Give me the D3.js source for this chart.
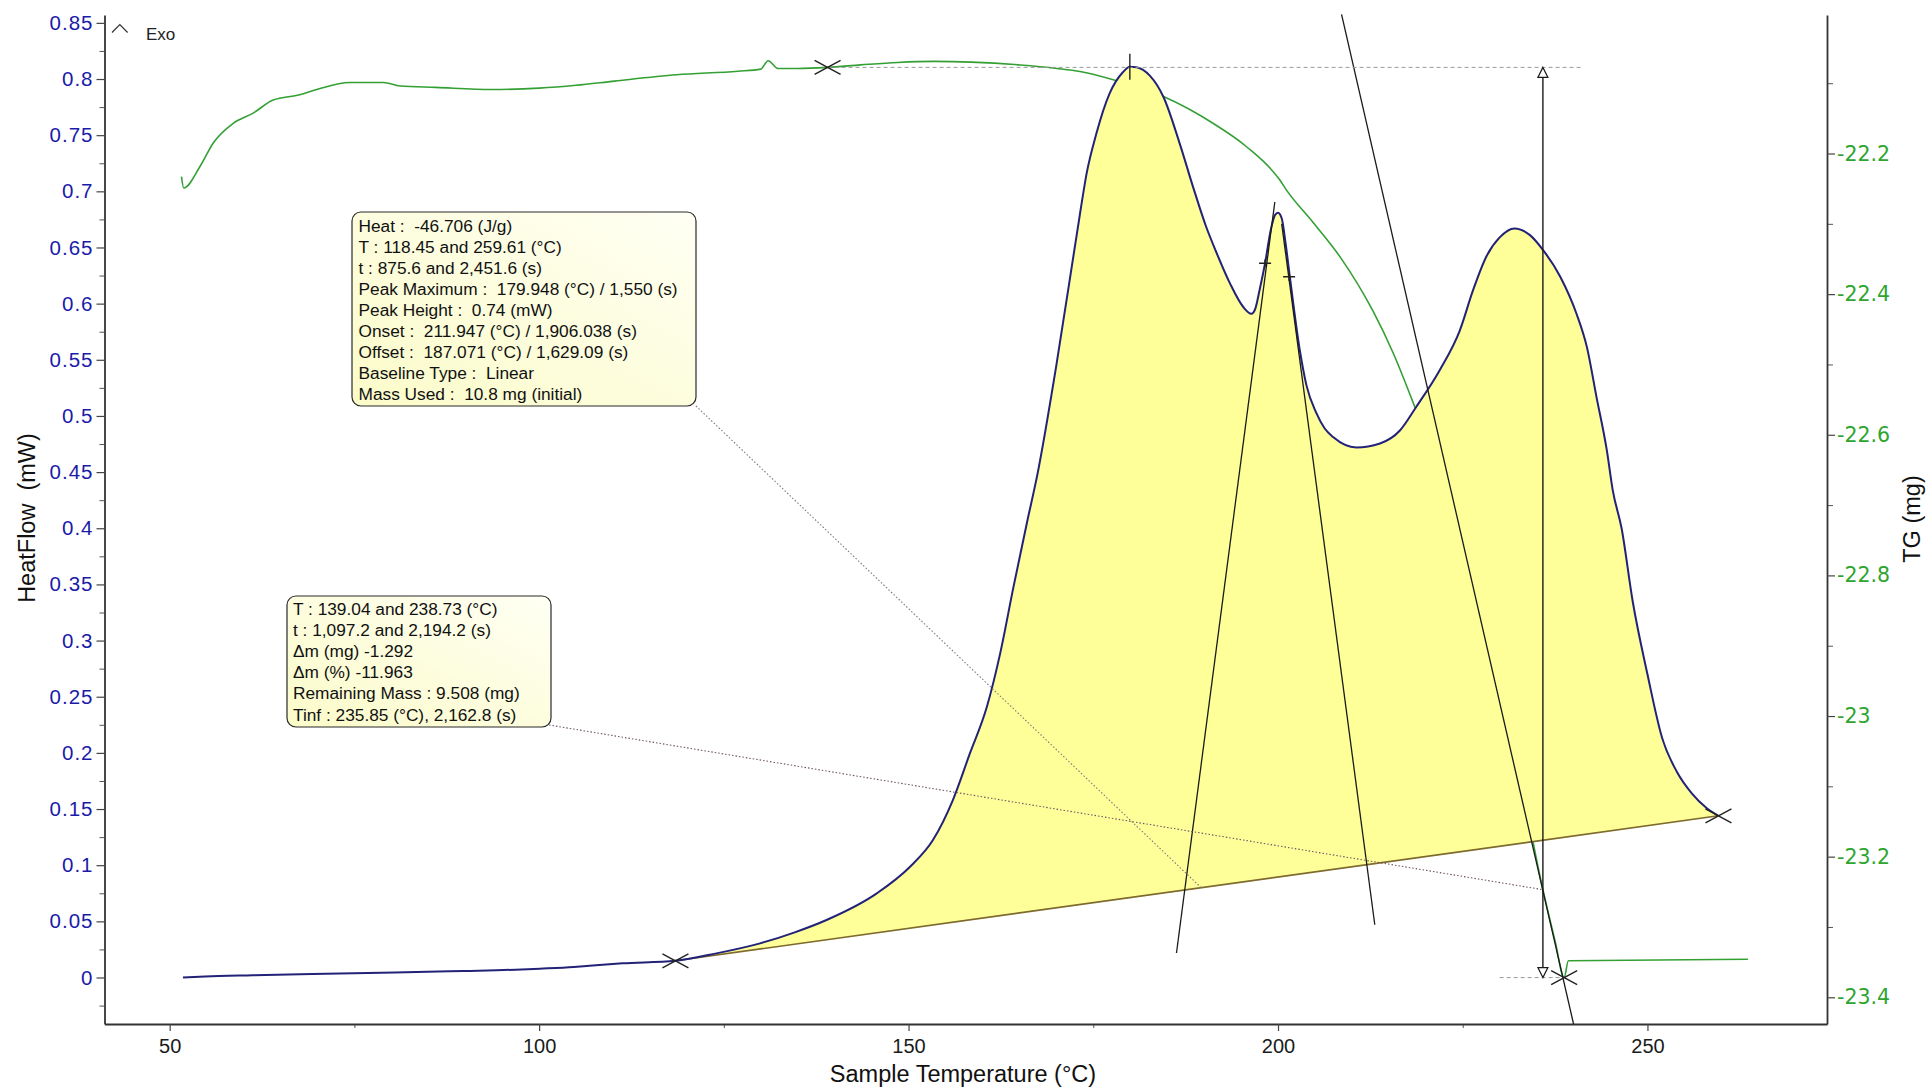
<!DOCTYPE html>
<html>
<head>
<meta charset="utf-8">
<script src="https://cdn.jsdelivr.net/npm/d3@7"></script>
<style>
  html, body { margin: 0; padding: 0; background: #ffffff; }
  svg { display: block; }
  text { white-space: pre; }
</style>
</head>
<body>
<svg id="chart" width="1928" height="1090"></svg>
<script>
// ---------------- data ----------------
// DSC heat flow trace: sample temperature (°C) and heat flow (mW)
const hfTemp = [51.8, 54.8, 61.2, 69.3, 80.5, 89.8, 96.8, 100.1, 104.7, 106.8, 111.3, 118.45,
  124.0, 129.9, 134.5, 138.9, 145.7, 150.2, 153.3, 156.0, 158.3, 160.6, 162.4, 164.2, 166.0,
  167.5, 170.0, 173.2, 174.1, 175.4, 177.2, 179.0, 179.948, 180.85, 182.65, 184.5, 186.7, 188.5,
  190.3, 191.7, 193.5, 195.3, 196.4, 196.9, 197.5, 198.25, 199.0, 199.6, 200.0, 200.5, 201.0,
  201.6, 202.95, 203.86, 205.2, 206.3, 207.5, 210.6, 213.8, 216.5, 218.7, 221.9, 224.6, 226.4, 228.2,
  230.0, 232.0, 234.1, 235.9, 238.2, 240.4, 241.8, 243.1, 244.5, 245.3, 246.5, 248.0, 250.0,
  252.0, 254.0, 256.0, 258.0, 259.61];
const hfValue = [0, 0.0009, 0.002, 0.0032, 0.0044, 0.0058, 0.007, 0.0079, 0.0094, 0.0105, 0.0126, 0.0149,
  0.0215, 0.0304, 0.040, 0.0512, 0.0749, 0.0986, 0.1224, 0.158, 0.1995, 0.241, 0.2886, 0.3478, 0.4043,
  0.450, 0.545, 0.680, 0.716, 0.751, 0.787, 0.806, 0.811, 0.8105, 0.803, 0.784, 0.7425, 0.704,
  0.668, 0.645, 0.618, 0.597, 0.591, 0.595, 0.612, 0.636, 0.665, 0.679, 0.681, 0.676, 0.655,
  0.624, 0.5585, 0.527, 0.5025, 0.489, 0.481, 0.472, 0.4755, 0.487, 0.508, 0.541, 0.576, 0.612, 0.642,
  0.659, 0.667, 0.661, 0.6475, 0.624, 0.591, 0.5615, 0.517, 0.4695, 0.434, 0.40, 0.335, 0.27,
  0.213, 0.183, 0.164, 0.151, 0.144];

// TG trace: sample temperature (°C) and mass signal (mg)
const tgTemp = [51.6, 51.9, 54.1, 55.9, 58.6, 61.3, 64.0, 67.6, 69.9, 74.4, 78.9, 81.2, 86.0, 93.6,
  100.0, 105.0, 110.2, 118.6, 126.9, 130.0, 131.0, 132.3, 135.0, 139.04, 143.5, 148.5, 153.5, 158.5,
  165.1, 170.1, 173.2, 177.7, 184.5, 191.2, 195.7, 200.2, 201.15, 204.75, 208.4, 212.9, 215.6, 218.5,
  221.0, 224.0, 227.0, 230.0, 233.0, 235.85, 237.5, 238.73, 239.3, 263.6];
const tgValue = [-22.233, -22.249, -22.2185, -22.185, -22.157, -22.1425, -22.124, -22.1165, -22.109,
  -22.099, -22.099, -22.104, -22.106, -22.109, -22.107, -22.103, -22.097, -22.088, -22.083, -22.080,
  -22.068, -22.079, -22.079, -22.0775, -22.074, -22.0705, -22.069, -22.070, -22.074, -22.079, -22.0833,
  -22.095, -22.119, -22.157, -22.19, -22.237, -22.252, -22.298, -22.347, -22.425, -22.484, -22.56,
  -22.63, -22.73, -22.84, -22.96, -23.10, -23.247, -23.32, -23.372, -23.348, -23.346];

// Peak integration: limits and linear baseline values at those limits
const peakLimitT = [118.45, 259.61];
const baselineV = [0.0149, 0.144];
const peakMaxT = 179.948;
const peakMaxV = 0.811;
// tangent points on the flanks of the middle peak
const flankT = [198.25, 201.5];
const flankV = [0.636, 0.624];
// onset / offset construction lines (heat flow units)
const tangentLeftT = [186.26, 199.57];
const tangentLeftV = [0.0218, 0.6905];
const tangentRightT = [200.5, 213.1];
const tangentRightV = [0.671, 0.047];

// Mass step: limits, levels, inflection and its tangent (TG units)
const stepT = [139.04, 238.73];
const stepV = [-22.0775, -23.372];
const tinfT = 235.85;
const tinfV = -23.247;
const stepTangentT = [208.6, 240.0];
const stepTangentV = [-22.002, -23.438];
const stepGuideTopT = [139.04, 241.3];
const stepGuideBottomT = [230.0, 238.73];
const heatLeaderT = 189.6;

// Axis ticks
const tempTicks = [50, 100, 150, 200, 250];
const tempMinor = [75, 125, 175, 225];
const hfTicks = [0, 0.05, 0.1, 0.15, 0.2, 0.25, 0.3, 0.35, 0.4, 0.45, 0.5, 0.55, 0.6, 0.65, 0.7, 0.75, 0.8, 0.85];
const hfMinor = [-0.025, 0.025, 0.075, 0.125, 0.175, 0.225, 0.275, 0.325, 0.375, 0.425, 0.475, 0.525,
  0.575, 0.625, 0.675, 0.725, 0.775, 0.825];
const tgTicks = [-22.2, -22.4, -22.6, -22.8, -23, -23.2, -23.4];
const tgMinor = [-22.1, -22.3, -22.5, -22.7, -22.9, -23.1, -23.3];

// Annotation texts
const heatNotes = [
  "Heat :  -46.706 (J/g)",
  "T : 118.45 and 259.61 (°C)",
  "t : 875.6 and 2,451.6 (s)",
  "Peak Maximum :  179.948 (°C) / 1,550 (s)",
  "Peak Height :  0.74 (mW)",
  "Onset :  211.947 (°C) / 1,906.038 (s)",
  "Offset :  187.071 (°C) / 1,629.09 (s)",
  "Baseline Type :  Linear",
  "Mass Used :  10.8 mg (initial)"
];
const massNotes = [
  "T : 139.04 and 238.73 (°C)",
  "t : 1,097.2 and 2,194.2 (s)",
  "\u0394m (mg) -1.292",
  "\u0394m (%) -11.963",
  "Remaining Mass : 9.508 (mg)",
  "Tinf : 235.85 (°C), 2,162.8 (s)"
];

// ---------------- layout ----------------
const plot = { left: 104.5, right: 1827, top: 15, bottom: 1024 };

const x = d3.scaleLinear().domain([41.18, 274.3]).range([plot.left, plot.right]);
const yHF = d3.scaleLinear().domain([-0.0414, 0.857]).range([plot.bottom, plot.top]);
const yTG = d3.scaleLinear().domain([-23.438, -22.003]).range([plot.bottom, plot.top]);

const svg = d3.select("#chart");
const sans = "'Liberation Sans', Arial, sans-serif";

const defs = svg.append("defs");
const grad = defs.append("linearGradient").attr("id", "noteFill")
  .attr("x1", "0%").attr("y1", "100%").attr("x2", "100%").attr("y2", "0%");
grad.append("stop").attr("offset", "0%").attr("stop-color", "#fbfbc9");
grad.append("stop").attr("offset", "100%").attr("stop-color", "#fffff4");

// ---------------- axes ----------------
function styleAxis(g) {
  g.select(".domain").attr("stroke", "#333").attr("stroke-width", 1.8);
  g.selectAll(".tick line").attr("stroke", "#444").attr("stroke-width", 1.2);
}

const fmtHF = d => String(+d.toFixed(2));

const gLeft = svg.append("g").attr("transform", `translate(${plot.left},0)`);
gLeft.append("g").call(d3.axisLeft(yHF).tickValues(hfMinor).tickSize(5).tickSizeOuter(0).tickFormat(""))
  .call(g => g.select(".domain").remove())
  .call(g => g.selectAll(".tick line").attr("stroke", "#555").attr("stroke-width", 1));
gLeft.append("g").call(d3.axisLeft(yHF).tickValues(hfTicks).tickSize(8).tickSizeOuter(0).tickPadding(3).tickFormat(fmtHF))
  .call(styleAxis)
  .call(g => g.selectAll(".tick text")
    .attr("font-family", sans).attr("font-size", 20.5).attr("letter-spacing", 1)
    .attr("fill", "#1b1baa"));

const gRight = svg.append("g").attr("transform", `translate(${plot.right},0)`);
gRight.append("g").call(d3.axisRight(yTG).tickValues(tgMinor).tickSize(6).tickSizeOuter(0).tickFormat(""))
  .call(g => g.select(".domain").remove())
  .call(g => g.selectAll(".tick line").attr("stroke", "#555").attr("stroke-width", 1));
gRight.append("g").call(d3.axisRight(yTG).tickValues(tgTicks).tickSize(8).tickSizeOuter(0).tickPadding(2).tickFormat(d => String(d)))
  .call(styleAxis)
  .call(g => g.selectAll(".tick text")
    .attr("font-family", "'DejaVu Sans', Verdana, sans-serif").attr("font-size", 20.5)
    .attr("fill", "#2ea52e"));

const gBottom = svg.append("g").attr("transform", `translate(0,${plot.bottom})`);
gBottom.append("g").call(d3.axisBottom(x).tickValues(tempMinor).tickSize(4).tickSizeOuter(0).tickFormat(""))
  .call(g => g.select(".domain").remove())
  .call(g => g.selectAll(".tick line").attr("stroke", "#555").attr("stroke-width", 1));
gBottom.append("g").call(d3.axisBottom(x).tickValues(tempTicks).tickSize(7).tickSizeOuter(0).tickPadding(8).tickFormat(d3.format("d")))
  .call(styleAxis)
  .call(g => g.selectAll(".tick text")
    .attr("font-family", sans).attr("font-size", 20).attr("fill", "#1a1a1a"));

// axis titles
svg.append("text").attr("x", 963).attr("y", 1082)
  .attr("text-anchor", "middle").attr("font-family", sans).attr("font-size", 23.5).attr("fill", "#111")
  .text("Sample Temperature (°C)");
svg.append("text").attr("transform", "translate(35,518) rotate(-90)")
  .attr("text-anchor", "middle").attr("font-family", sans).attr("font-size", 23.5).attr("fill", "#111")
  .text("HeatFlow  (mW)");
svg.append("text").attr("transform", "translate(1920,519) rotate(-90)")
  .attr("text-anchor", "middle").attr("font-family", sans).attr("font-size", 23.5).attr("fill", "#111")
  .text("TG (mg)");

// Exo direction marker
svg.append("path").attr("d", "M112,32.5 L119.8,24.5 L127.6,32.5")
  .attr("fill", "none").attr("stroke", "#333").attr("stroke-width", 1.2);
svg.append("text").attr("x", 146).attr("y", 39.5).attr("font-family", sans).attr("font-size", 17)
  .attr("fill", "#222").text("Exo");

// ---------------- traces ----------------
const hfData = hfTemp.map((t, i) => ({ t, v: hfValue[i] }));
const tgData = tgTemp.map((t, i) => ({ t, v: tgValue[i] }));

const baseAt = t => baselineV[0] + (t - peakLimitT[0]) * (baselineV[1] - baselineV[0]) / (peakLimitT[1] - peakLimitT[0]);

// TG curve (sits underneath the integrated area)
svg.append("path").datum(tgData)
  .attr("d", d3.line().x(d => x(d.t)).y(d => yTG(d.v)).curve(d3.curveMonotoneX))
  .attr("fill", "none").attr("stroke", "#34a034").attr("stroke-width", 1.6);

// integrated peak area between the trace and the linear baseline
const peakData = hfData.filter(d => d.t >= peakLimitT[0] && d.t <= peakLimitT[1]);
svg.append("path").datum(peakData)
  .attr("d", d3.area().x(d => x(d.t)).y0(d => yHF(baseAt(d.t))).y1(d => yHF(d.v)).curve(d3.curveMonotoneX))
  .attr("fill", "#ffff99").attr("stroke", "none");

// baseline
svg.append("line")
  .attr("x1", x(peakLimitT[0])).attr("y1", yHF(baselineV[0]))
  .attr("x2", x(peakLimitT[1])).attr("y2", yHF(baselineV[1]))
  .attr("stroke", "#7d6a2c").attr("stroke-width", 1.7);

// heat flow curve
svg.append("path").datum(hfData)
  .attr("d", d3.line().x(d => x(d.t)).y(d => yHF(d.v)).curve(d3.curveMonotoneX))
  .attr("fill", "none").attr("stroke", "#222278").attr("stroke-width", 2);

// ---------------- construction lines ----------------
const black = "#1a1a1a";
svg.append("line")
  .attr("x1", x(tangentLeftT[0])).attr("y1", yHF(tangentLeftV[0]))
  .attr("x2", x(tangentLeftT[1])).attr("y2", yHF(tangentLeftV[1]))
  .attr("stroke", black).attr("stroke-width", 1.3);
svg.append("line")
  .attr("x1", x(tangentRightT[0])).attr("y1", yHF(tangentRightV[0]))
  .attr("x2", x(tangentRightT[1])).attr("y2", yHF(tangentRightV[1]))
  .attr("stroke", black).attr("stroke-width", 1.3);
svg.append("line")
  .attr("x1", x(stepTangentT[0])).attr("y1", yTG(stepTangentV[0]))
  .attr("x2", x(stepTangentT[1])).attr("y2", yTG(stepTangentV[1]))
  .attr("stroke", black).attr("stroke-width", 1.3);

// mass step level guides
svg.append("line")
  .attr("x1", x(stepGuideTopT[0])).attr("y1", yTG(stepV[0]))
  .attr("x2", x(stepGuideTopT[1])).attr("y2", yTG(stepV[0]))
  .attr("stroke", "#9a9a9a").attr("stroke-width", 1).attr("stroke-dasharray", "4,3");
svg.append("line")
  .attr("x1", x(stepGuideBottomT[0])).attr("y1", yTG(stepV[1]))
  .attr("x2", x(stepGuideBottomT[1])).attr("y2", yTG(stepV[1]))
  .attr("stroke", "#9a9a9a").attr("stroke-width", 1).attr("stroke-dasharray", "4,3");

// double-headed mass loss arrow at the inflection temperature
const ax = x(tinfT), ayTop = yTG(stepV[0]), ayBot = yTG(stepV[1]);
svg.append("line").attr("x1", ax).attr("y1", ayTop + 9).attr("x2", ax).attr("y2", ayBot - 9)
  .attr("stroke", black).attr("stroke-width", 1.4);
svg.append("path").attr("d", `M${ax},${ayTop} L${ax - 5},${ayTop + 10} L${ax + 5},${ayTop + 10} Z`)
  .attr("fill", "#fff").attr("stroke", black).attr("stroke-width", 1.2);
svg.append("path").attr("d", `M${ax},${ayBot} L${ax - 5},${ayBot - 10} L${ax + 5},${ayBot - 10} Z`)
  .attr("fill", "#fff").attr("stroke", black).attr("stroke-width", 1.2);

// ---------------- point markers ----------------
const crossPath = "M-13,-7 L13,7 M-13,7 L13,-7";
function cross(px, py) {
  svg.append("path").attr("d", crossPath).attr("transform", `translate(${px},${py})`)
    .attr("fill", "none").attr("stroke", "#222").attr("stroke-width", 1.4);
}
peakLimitT.forEach((t, i) => cross(x(t), yHF(baselineV[i])));
stepT.forEach((t, i) => cross(x(t), yTG(stepV[i])));

// peak maximum tick
svg.append("line")
  .attr("x1", x(peakMaxT)).attr("x2", x(peakMaxT))
  .attr("y1", yHF(peakMaxV) - 13).attr("y2", yHF(peakMaxV) + 13)
  .attr("stroke", "#222").attr("stroke-width", 1.4);

// flank tangent points
flankT.forEach((t, i) => {
  svg.append("path").attr("d", "M-6,0 L6,0 M0,-4 L0,4")
    .attr("transform", `translate(${x(t)},${yHF(flankV[i])})`)
    .attr("fill", "none").attr("stroke", "#222").attr("stroke-width", 1.4);
});

// ---------------- annotation boxes ----------------
const heatBox = { x: 352, y: 212, w: 344, h: 194, tx: 358.5, ty: 231.5, dy: 21.06 };
const massBox = { x: 287, y: 596, w: 264, h: 131, tx: 293, ty: 615, dy: 21.1 };

// dotted leaders from the boxes to the features they describe
svg.append("line")
  .attr("x1", heatBox.x + heatBox.w).attr("y1", heatBox.y + heatBox.h)
  .attr("x2", x(heatLeaderT)).attr("y2", yHF(baseAt(heatLeaderT)))
  .attr("stroke", "#7a7a7a").attr("stroke-width", 1.1).attr("stroke-dasharray", "1.5,2");
svg.append("line")
  .attr("x1", massBox.x + massBox.w - 2).attr("y1", massBox.y + massBox.h - 2)
  .attr("x2", x(tinfT)).attr("y2", yTG(tinfV))
  .attr("stroke", "#6e5268").attr("stroke-width", 1.1).attr("stroke-dasharray", "1.5,2");

function noteBox(b, lines) {
  const g = svg.append("g");
  g.append("rect").attr("x", b.x).attr("y", b.y).attr("width", b.w).attr("height", b.h)
    .attr("rx", 9).attr("ry", 9)
    .attr("fill", "url(#noteFill)").attr("stroke", "#2a2a2a").attr("stroke-width", 1.2);
  g.selectAll("text").data(lines).join("text")
    .attr("x", b.tx).attr("y", (d, i) => b.ty + i * b.dy)
    .attr("font-family", sans).attr("font-size", 17.3).attr("fill", "#111")
    .text(d => d);
}
noteBox(heatBox, heatNotes);
noteBox(massBox, massNotes);
</script>
</body>
</html>
